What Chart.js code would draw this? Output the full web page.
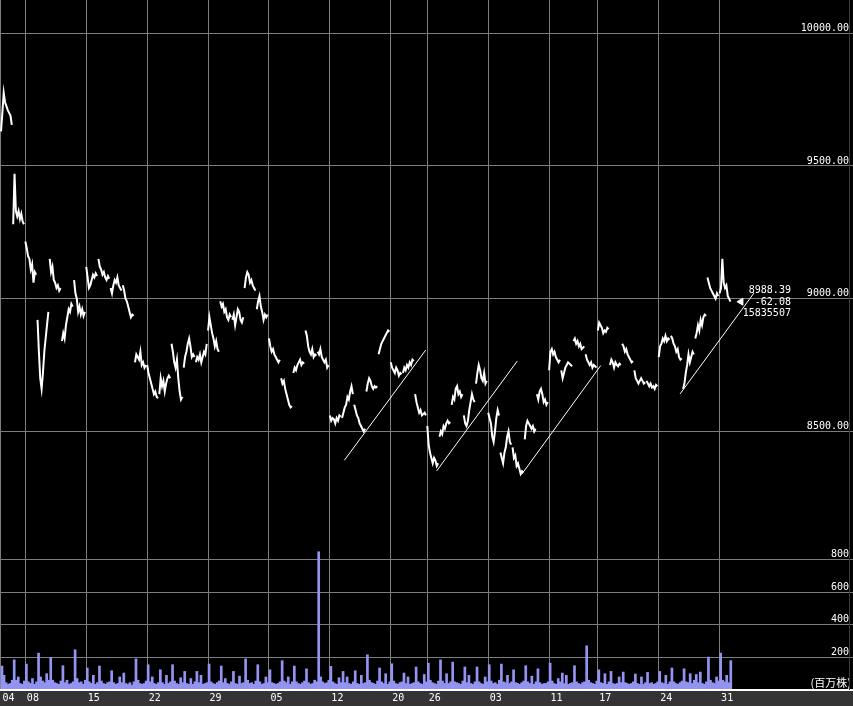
<!DOCTYPE html>
<html><head><meta charset="utf-8">
<script src="https://cdn.jsdelivr.net/npm/chart.js@4/dist/chart.umd.min.js"></script>
<style>html,body{margin:0;padding:0;background:#000;overflow:hidden}canvas{display:block}</style>
</head><body>
<canvas id="c" width="853" height="706"></canvas>
<script>
// ---- tick labels ----
const dayLabels = ['04','08','15','22','29','05','12','20','26','03','11','17','24','31'];
const labelDays = [0, 2, 7, 12, 17, 22, 27, 32, 35, 40, 45, 49, 54, 59];
const priceTicks = [8500, 9000, 9500, 10000];
const volumeTicks = [200, 400, 600, 800];
const volumeUnit = '(百万株)';

// ---- intraday prices, one row per trading day ----
const priceDays = [
  [9630,9700,9775,9740,9725,9710,9700,9690,9655],
  [9280,9470,9330,9310,9330,9300,9320,9290,9280],
  [9215,9190,9160,9150,9110,9130,9060,9100,9090],
  [8920,8800,8700,8660,8720,8800,8850,8900,8950],
  [9150,9100,9120,9070,9060,9040,9050,9030,9040],
  [8840,8870,8850,8900,8930,8960,8950,8980,8970],
  [9070,9020,9000,8950,8970,8940,8960,8935,8950],
  [9120,9080,9040,9050,9070,9090,9080,9095,9085],
  [9150,9120,9110,9090,9100,9080,9070,9085,9075],
  [9040,9020,9050,9070,9060,9080,9050,9040,9030],
  [9050,9030,9000,8990,8970,8950,8930,8940,8935],
  [8760,8790,8780,8770,8800,8750,8760,8740,8750],
  [8750,8720,8700,8680,8660,8640,8650,8630,8625],
  [8640,8700,8670,8690,8650,8680,8700,8710,8700],
  [8830,8800,8760,8740,8770,8700,8650,8620,8630],
  [8740,8780,8800,8830,8850,8820,8780,8790,8780],
  [8760,8780,8770,8790,8760,8780,8800,8790,8830],
  [8880,8930,8900,8870,8850,8820,8840,8810,8800],
  [8990,8970,8980,8950,8960,8930,8920,8940,8930],
  [8920,8940,8900,8930,8960,8950,8920,8910,8930],
  [9040,9080,9100,9090,9060,9070,9050,9040,9030],
  [8960,8990,9010,8970,8950,8920,8940,8930,8940],
  [8850,8820,8800,8810,8790,8780,8770,8760,8770],
  [8700,8680,8690,8660,8640,8620,8600,8590,8595],
  [8720,8740,8730,8750,8760,8770,8750,8760,8755],
  [8880,8860,8820,8800,8790,8810,8780,8790,8785],
  [8800,8790,8810,8780,8770,8760,8770,8740,8750],
  [8560,8540,8550,8545,8530,8550,8540,8560,8555],
  [8550,8570,8590,8600,8630,8620,8650,8670,8640],
  [8600,8580,8560,8550,8530,8520,8510,8500,8510],
  [8650,8680,8700,8690,8670,8660,8670,8665,8670],
  [8790,8810,8830,8840,8850,8860,8870,8880,8875],
  [8760,8740,8730,8720,8740,8730,8710,8720,8715],
  [8720,8740,8730,8750,8740,8760,8750,8770,8765],
  [8640,8610,8590,8570,8580,8560,8565,8570,8560],
  [8520,8450,8420,8400,8380,8400,8390,8370,8380],
  [8480,8500,8490,8520,8510,8530,8540,8530,8535],
  [8600,8630,8620,8660,8670,8640,8650,8630,8640],
  [8560,8530,8520,8540,8580,8610,8640,8620,8610],
  [8680,8720,8750,8730,8700,8690,8720,8680,8690],
  [8570,8550,8530,8480,8460,8500,8550,8580,8560],
  [8420,8400,8380,8420,8440,8480,8500,8460,8450],
  [8440,8400,8410,8370,8380,8360,8340,8350,8345],
  [8470,8520,8540,8530,8520,8510,8520,8500,8510],
  [8640,8620,8650,8660,8640,8610,8620,8600,8610],
  [8730,8800,8810,8790,8800,8780,8770,8760,8770],
  [8730,8700,8720,8740,8750,8760,8755,8750,8745],
  [8840,8850,8830,8840,8820,8830,8810,8815,8820],
  [8790,8770,8760,8750,8760,8740,8750,8745,8740],
  [8880,8910,8900,8890,8870,8880,8875,8890,8885],
  [8750,8770,8760,8740,8760,8750,8745,8755,8750],
  [8830,8820,8800,8810,8790,8780,8770,8760,8765],
  [8730,8700,8690,8680,8690,8700,8690,8680,8685],
  [8690,8680,8670,8680,8665,8670,8660,8675,8670],
  [8780,8820,8830,8850,8840,8860,8840,8850,8845],
  [8860,8850,8830,8820,8800,8810,8780,8770,8775],
  [8660,8680,8720,8750,8790,8760,8780,8800,8790],
  [8850,8870,8900,8880,8920,8900,8930,8940,8935],
  [9080,9060,9040,9030,9020,9010,9000,9020,9010],
  [9020,9040,9150,9060,9040,9050,9010,9000,8988.39]
];

// ---- intraday volume (million shares), one row per trading day ----
const volumeDays = [
  [147,90,45,35,40,60],[185,60,80,40,35,55],[159,50,40,70,35,50],[226,80,55,45,100,60],
  [200,60,45,40,35,55],[149,45,60,35,40,50],[247,70,45,50,35,60],[135,50,40,90,35,45],
  [147,55,40,35,45,50],[118,45,35,40,80,45],[104,40,35,45,30,50],[191,60,40,35,40,55],
  [155,50,80,40,35,45],[124,45,35,90,40,50],[155,55,40,35,75,45],[114,40,35,70,35,50],
  [114,45,90,35,40,45],[159,50,40,35,45,55],[147,45,70,40,35,50],[114,40,35,85,40,45],
  [191,60,40,45,35,55],[155,50,35,40,80,45],[124,45,40,35,40,50],[180,55,45,80,35,50],
  [147,50,40,35,45,55],[130,45,35,40,60,50],[848,80,50,40,45,60],[145,50,40,35,75,45],
  [114,45,80,40,35,50],[118,40,35,90,40,45],[216,60,45,40,35,55],[135,50,40,100,35,50],
  [161,55,40,35,45,50],[104,40,80,35,40,45],[141,50,40,35,95,50],[165,60,45,40,35,55],
  [185,55,40,100,40,50],[171,50,45,40,35,55],[141,45,90,40,35,50],[141,50,40,35,80,50],
  [155,55,40,45,35,60],[159,50,45,90,40,50],[124,45,40,35,45,55],[149,50,40,85,35,50],
  [130,45,35,40,40,50],[165,55,40,35,70,50],[104,40,90,35,40,45],[149,50,40,35,45,50],
  [271,60,45,40,35,55],[124,45,40,100,35,50],[114,40,35,40,80,45],[110,45,40,35,40,50],
  [98,40,35,80,35,45],[108,40,45,35,40,50],[114,45,40,90,35,50],[135,50,40,35,45,55],
  [130,50,45,100,40,60],[95,45,110,40,35,50],[202,60,45,40,80,55],[226,60,50,90,45,180]
];

// ---- last-value annotation ----
const lastPrice = 8988.39;
const priceChange = -62.08;
const lastVolume = 15835507;

// ---- hand-drawn trend lines: [startDay, startPrice, endDay, endPrice] ----
const trendLines = [
  [28.19, 8391, 34.87, 8806],
  [35.77, 8351, 42.39, 8765],
  [42.75, 8338, 49.24, 8748],
  [55.75, 8641, 61.82, 9021]
];

// ---- build datasets ----
const pricePoints = [];
priceDays.forEach((vals, d) => {
  vals.forEach((v, i) => pricePoints.push({x: d + i / vals.length, y: v}));
  pricePoints.push({x: d + 0.95, y: null});
});
const volumePoints = [];
volumeDays.forEach((vals, d) => {
  vals.forEach((v, i) => volumePoints.push({x: d + (i + 0.5) / vals.length, y: v}));
});

const GRID = 'rgb(125,125,125)';
const FONT = {family: 'DejaVu Sans Mono', size: 10};
const DAYPX = 12.18;
const W = 853;

const datasets = [
  {type: 'bar', data: volumePoints, yAxisID: 'yv', backgroundColor: '#9393f2',
   barPercentage: 1, categoryPercentage: 1, order: 5},
  {type: 'line', data: pricePoints, yAxisID: 'y', borderColor: '#fff', borderWidth: 2,
   pointRadius: 0, spanGaps: false, tension: 0, order: 2}
];
trendLines.forEach(t => datasets.push({type: 'line', yAxisID: 'y',
  data: [{x: t[0], y: t[1]}, {x: t[2], y: t[3]}], borderColor: '#fff', borderWidth: 1,
  pointRadius: 0, order: 1}));
datasets.push({type: 'line', yAxisID: 'y', showLine: false,
  data: [{x: priceDays.length + 0.75, y: lastPrice}],
  pointStyle: 'triangle', rotation: -90, pointRadius: 4,
  backgroundColor: '#fff', borderColor: '#fff', order: 0});
const markerIndex = datasets.length - 1;

const bgPlugin = {
  id: 'bg',
  beforeDraw(chart) {
    const {ctx, chartArea} = chart;
    ctx.save();
    ctx.fillStyle = '#000';
    ctx.fillRect(0, 0, chart.width, chart.height);
    ctx.fillStyle = '#343434';
    ctx.fillRect(0, chartArea.bottom, chart.width, chart.height - chartArea.bottom);
    ctx.restore();
  },
  afterDatasetsDraw(chart) {
    const {ctx, chartArea} = chart;
    const p = chart.getDatasetMeta(markerIndex).data[0];
    ctx.save();
    ctx.fillStyle = '#fff';
    ctx.font = '10px "DejaVu Sans Mono"';
    ctx.textAlign = 'right';
    ctx.textBaseline = 'middle';
    const rx = p.x + 50;
    ctx.fillText(lastPrice.toFixed(2), rx, p.y - 11);
    ctx.fillText(priceChange.toFixed(2), rx, p.y + 1);
    ctx.fillText(String(lastVolume), rx, p.y + 12);
    ctx.font = '11px "Noto Sans CJK JP"';
    ctx.textBaseline = 'alphabetic';
    ctx.fillText(volumeUnit, chart.width - 2, chartArea.bottom - 3);
    ctx.fillRect(0, chartArea.bottom - 1, chart.width, 2);
    ctx.fillStyle = '#3a3a3a';
    ctx.fillRect(chart.width - 4, 0, 1, chartArea.bottom);
    ctx.restore();
  }
};

new Chart(document.getElementById('c'), {
  data: {datasets},
  options: {
    responsive: false, animation: false, devicePixelRatio: 1,
    layout: {padding: 0, autoPadding: false},
    plugins: {legend: {display: false}, tooltip: {enabled: false}},
    scales: {
      x: {
        type: 'linear', offset: false, min: -1 / DAYPX, max: -1 / DAYPX + W / DAYPX,
        afterBuildTicks(s) { s.ticks = labelDays.map(v => ({value: v})); },
        afterFit(s) { s.paddingLeft = 0; s.paddingRight = 0; },
        grid: {color: GRID, lineWidth: 1, drawTicks: false, offset: false},
        border: {display: false},
        ticks: {color: '#fff', font: FONT, padding: 2, align: 'start', labelOffset: 1.5,
          autoSkip: false, maxRotation: 0,
          callback: v => dayLabels[labelDays.indexOf(v)]}
      },
      y: {
        type: 'linear', position: 'right', min: 7525.5, max: 10125.1,
        afterBuildTicks(s) { s.ticks = priceTicks.map(v => ({value: v})); },
        afterFit(s) { s.paddingTop = 0; s.paddingBottom = 0; s.width = 0; },
        grid: {color: GRID, lineWidth: 1, drawTicks: false},
        border: {display: false},
        ticks: {mirror: true, color: '#fff', font: FONT, padding: -4, labelOffset: -5,
          callback: v => v.toFixed(2)}
      },
      yv: {
        type: 'linear', position: 'right', min: 0, max: 4232,
        afterBuildTicks(s) { s.ticks = volumeTicks.map(v => ({value: v})); },
        afterFit(s) { s.paddingTop = 0; s.paddingBottom = 0; s.width = 0; },
        grid: {color: GRID, lineWidth: 1, drawTicks: false},
        border: {display: false},
        ticks: {mirror: true, color: '#fff', font: FONT, padding: -4, labelOffset: -5,
          callback: v => String(v)}
      }
    }
  },
  plugins: [bgPlugin]
});
</script>
</body></html>
